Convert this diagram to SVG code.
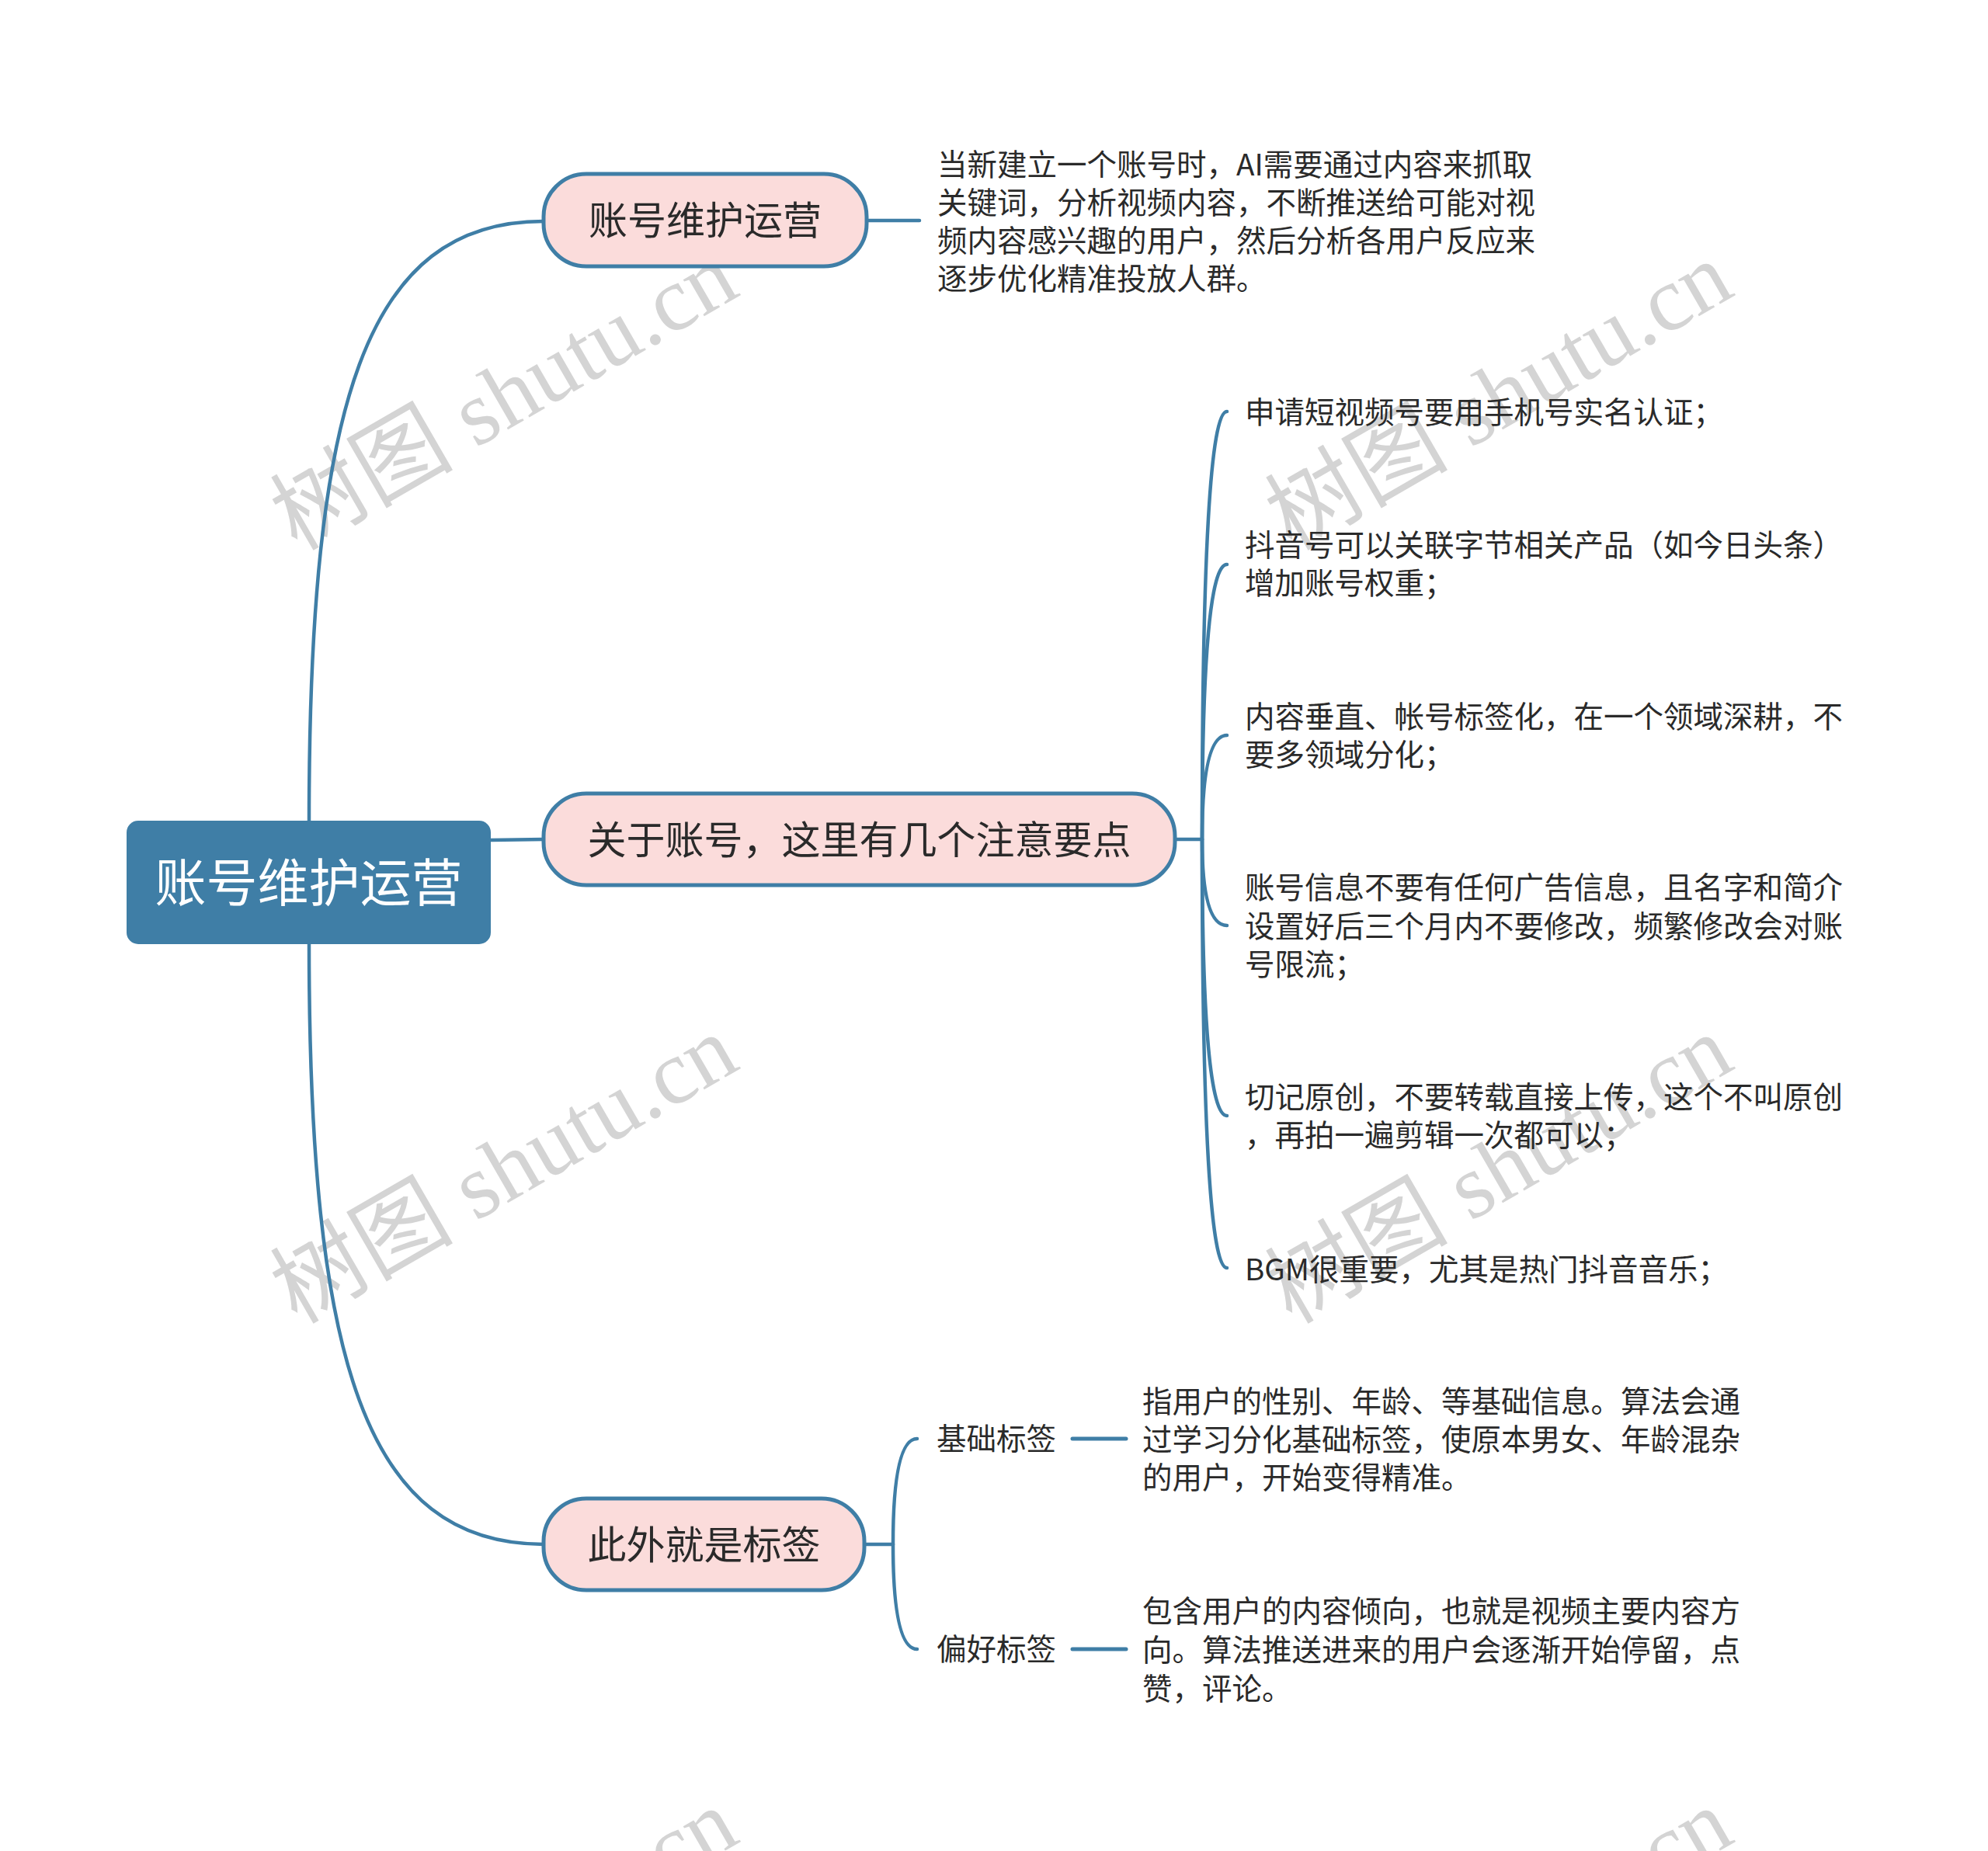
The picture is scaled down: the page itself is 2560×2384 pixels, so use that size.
<svg xmlns="http://www.w3.org/2000/svg" width="2560" height="2384" viewBox="0 0 2560 2384">
<style>
.bg{fill:#ffffff}
.wm{font-family:"Liberation Serif","Noto Sans CJK SC",serif;font-size:118px;fill:#d4d4d4;text-anchor:middle}
.conn{fill:none;stroke:#3f7ea6;stroke-width:4.5;stroke-linecap:round}
.root{fill:#3f7ea6}
.pill{fill:#fbdcdb;stroke:#3f7ea6;stroke-width:5}
.rt{font-family:"Noto Sans CJK SC",sans-serif;font-size:66px;fill:#ffffff;text-anchor:middle}
.pt{font-family:"Noto Sans CJK SC",sans-serif;font-size:50px;fill:#2a2a2a;text-anchor:middle}
.lt{font-family:"Noto Sans CJK SC",sans-serif;font-size:38.5px;fill:#2a2a2a}
</style>
<rect class="bg" x="0" y="0" width="2560" height="2384"/>
<g id="watermarks">
<text class="wm" x="649" y="550" transform="rotate(-30 649 510)">树图 shutu.cn</text>
<text class="wm" x="1930" y="550" transform="rotate(-30 1930 510)">树图 shutu.cn</text>
<text class="wm" x="649" y="1546" transform="rotate(-30 649 1506)">树图 shutu.cn</text>
<text class="wm" x="1930" y="1546" transform="rotate(-30 1930 1506)">树图 shutu.cn</text>
<text class="wm" x="649" y="2542" transform="rotate(-30 649 2502)">树图 shutu.cn</text>
<text class="wm" x="1930" y="2542" transform="rotate(-30 1930 2502)">树图 shutu.cn</text>
</g>
<g id="connectors">
<path class="conn" d="M398,1136 L398,1057 C398,520 470,285 700,285"/>
<path class="conn" d="M632,1082 L700,1081"/>
<path class="conn" d="M398,1136 L398,1216 C398,1752 470,1989 700,1989"/>
<path class="conn" d="M1116,284 L1184,284"/>
<path class="conn" d="M1513,1081 L1548,1081"/>
<path class="conn" d="M1548,1081 Q1548,530 1580,530"/>
<path class="conn" d="M1548,1081 Q1548,727 1580,727"/>
<path class="conn" d="M1548,1081 Q1548,947 1580,947"/>
<path class="conn" d="M1548,1081 Q1548,1192 1580,1192"/>
<path class="conn" d="M1548,1081 Q1548,1437 1580,1437"/>
<path class="conn" d="M1548,1081 Q1548,1633 1580,1633"/>
<path class="conn" d="M1113,1989 L1150,1989"/>
<path class="conn" d="M1150,1989 Q1150,1853 1181,1853"/>
<path class="conn" d="M1150,1989 Q1150,2124 1181,2124"/>
<path class="conn" d="M1381,1853 L1450,1853" style="stroke-width:5"/>
<path class="conn" d="M1381,2124 L1450,2124" style="stroke-width:5"/>
</g>
<g id="root">
<rect class="root" x="163" y="1057" width="469" height="159" rx="15" ry="15"/>
<text class="rt" x="397.5" y="1161">账号维护运营</text>
</g>
<g id="b1">
<rect class="pill" x="700" y="224" width="416" height="119" rx="55" ry="55"/>
<text class="pt" x="908" y="301.5">账号维护运营</text>
</g>
<g id="b1-leaf">
<text class="lt" x="1207"><tspan x="1207" y="226">当新建立一个账号时，AI需要通过内容来抓取</tspan><tspan x="1207" y="275">关键词，分析视频内容，不断推送给可能对视</tspan><tspan x="1207" y="324">频内容感兴趣的用户，然后分析各用户反应来</tspan><tspan x="1207" y="373">逐步优化精准投放人群。</tspan></text>
</g>
<g id="b2">
<rect class="pill" x="700" y="1022" width="813" height="118" rx="55" ry="55"/>
<text class="pt" x="1106.5" y="1099.5">关于账号，这里有几个注意要点</text>
</g>
<g id="b2-l1"><text class="lt" x="1603" y="545">申请短视频号要用手机号实名认证；</text></g>
<g id="b2-l2"><text class="lt"><tspan x="1603" y="716">抖音号可以关联字节相关产品（如今日头条）</tspan><tspan x="1603" y="765">增加账号权重；</tspan></text></g>
<g id="b2-l3"><text class="lt"><tspan x="1603" y="937">内容垂直、帐号标签化，在一个领域深耕，不</tspan><tspan x="1603" y="986">要多领域分化；</tspan></text></g>
<g id="b2-l4"><text class="lt"><tspan x="1603" y="1157">账号信息不要有任何广告信息，且名字和简介</tspan><tspan x="1603" y="1207">设置好后三个月内不要修改，频繁修改会对账</tspan><tspan x="1603" y="1256">号限流；</tspan></text></g>
<g id="b2-l5"><text class="lt"><tspan x="1603" y="1427">切记原创，不要转载直接上传，这个不叫原创</tspan><tspan x="1603" y="1476">，再拍一遍剪辑一次都可以；</tspan></text></g>
<g id="b2-l6"><text class="lt" x="1603" y="1649">BGM很重要，尤其是热门抖音音乐；</text></g>
<g id="b3">
<rect class="pill" x="700" y="1930" width="413" height="118" rx="55" ry="55"/>
<text class="pt" x="906.5" y="2007.5">此外就是标签</text>
</g>
<g id="b3-c1"><text class="lt" x="1206" y="1867">基础标签</text></g>
<g id="b3-c1-d"><text class="lt"><tspan x="1471" y="1819">指用户的性别、年龄、等基础信息。算法会通</tspan><tspan x="1471" y="1868">过学习分化基础标签，使原本男女、年龄混杂</tspan><tspan x="1471" y="1917">的用户，开始变得精准。</tspan></text></g>
<g id="b3-c2"><text class="lt" x="1206" y="2138">偏好标签</text></g>
<g id="b3-c2-d"><text class="lt"><tspan x="1471" y="2089">包含用户的内容倾向，也就是视频主要内容方</tspan><tspan x="1471" y="2139">向。算法推送进来的用户会逐渐开始停留，点</tspan><tspan x="1471" y="2189">赞，评论。</tspan></text></g>
</svg>
